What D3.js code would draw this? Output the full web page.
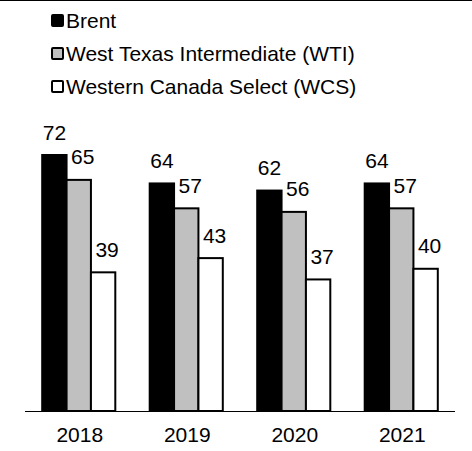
<!DOCTYPE html>
<html>
<head>
<meta charset="utf-8">
<script src="https://cdn.jsdelivr.net/npm/d3@7"></script>
<style>
  html, body { margin: 0; padding: 0; background: #fff; }
  svg { display: block; font-family: Arial, "Liberation Sans", sans-serif; }
</style>
</head>
<body>
<script>
const years = ["2018", "2019", "2020", "2021"];
const seriesNames = ["Brent", "West Texas Intermediate (WTI)", "Western Canada Select (WCS)"];
const brent = [72, 64, 62, 64];
const wti = [65, 57, 56, 57];
const wcs = [39, 43, 37, 40];
const seriesFill = ["#000000", "#c0c0c0", "#ffffff"];

const W = 472, H = 451;
const svg = d3.select("body").append("svg").attr("width", W).attr("height", H);

// top border line
svg.append("line").attr("x1", 0).attr("x2", W).attr("y1", 0.5).attr("y2", 0.5)
  .attr("stroke", "#000").attr("stroke-width", 1);

const values = [brent, wti, wcs];
const data = years.map((y, i) => ({ year: y, vals: values.map(v => v[i]) }));

const x0 = d3.scaleBand().domain(years).range([25, 455]).paddingInner(0.32).paddingOuter(0.16);
const x1 = d3.scaleBand().domain(d3.range(3)).range([0, x0.bandwidth()]).padding(0);
const y = d3.scaleLinear().domain([0, 72]).range([411, 155]);

const g = svg.append("g");
const groups = g.selectAll(".grp").data(data).enter().append("g")
  .attr("transform", d => `translate(${x0(d.year)},0)`);

groups.selectAll("rect").data(d => d.vals.map((v, k) => ({ v, k }))).enter().append("rect")
  .attr("x", d => x1(d.k))
  .attr("y", d => y(d.v))
  .attr("width", x1.bandwidth())
  .attr("height", d => y(0) - y(d.v))
  .attr("fill", d => seriesFill[d.k])
  .attr("stroke", "#000")
  .attr("stroke-width", 2);

groups.selectAll("text").data(d => d.vals.map((v, k) => ({ v, k }))).enter().append("text")
  .attr("x", d => x1(d.k) + x1.bandwidth() / 2 + (d.k === 0 ? 0 : 4))
  .attr("y", d => y(d.v) - 15.5)
  .attr("text-anchor", "middle")
  .attr("font-size", 21)
  .attr("fill", "#000")
  .text(d => d.v);

// axis
const axis = d3.axisBottom(x0).tickSize(0).tickPadding(16);
const ax = svg.append("g").attr("transform", `translate(0,${y(0)})`).call(axis);
ax.select(".domain").attr("stroke", "#000").attr("stroke-width", 1)
  .attr("d", "M25,0.5H455");
ax.selectAll("text").attr("font-size", 21).attr("fill", "#000")
  .attr("font-family", "Arial, 'Liberation Sans', sans-serif").attr("dx", 1);

// legend
const leg = svg.append("g");
const legBase = [28, 61, 94];
seriesNames.forEach((name, i) => {
  const yy = legBase[i];
  leg.append("rect").attr("x", 52).attr("y", yy - 13).attr("width", 11).attr("height", 11)
    .attr("rx", 1)
    .attr("fill", seriesFill[i]).attr("stroke", "#000").attr("stroke-width", 2);
  leg.append("text").attr("x", 66).attr("y", yy).attr("font-size", 21).attr("fill", "#000").text(name);
});
</script>
</body>
</html>
